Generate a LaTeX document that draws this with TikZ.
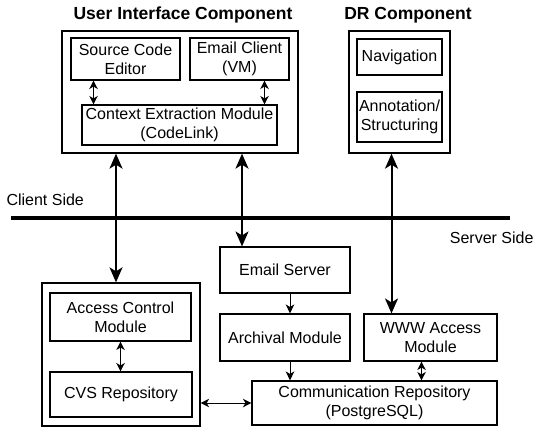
\documentclass[tikz,border=0pt]{standalone}
\usepackage{fontspec}
\setmainfont{Liberation Sans}
\usetikzlibrary{arrows.meta}
\begin{document}
\begin{tikzpicture}[x=1pt, y=-1pt,
        box/.style={rectangle, draw=black, line width=1.1pt, align=center, inner sep=0pt, font=\fontsize{16}{19}\selectfont},
        group/.style={rectangle, draw=black, line width=1.3pt, inner sep=0pt},
        title/.style={font=\fontsize{17.5}{19}\selectfont\bfseries},
        side/.style={font=\fontsize{16}{19}\selectfont},
        arrow/.style={line width=1pt, -{Stealth[length=9pt, width=8.5pt, inset=2.5pt]}},
        dblarrow/.style={line width=1pt, {Stealth[length=8.5pt, width=8.5pt, inset=2.5pt]}-{Stealth[length=8.5pt, width=8.5pt, inset=2.5pt]}},
        bigarrow/.style={line width=2pt, {Stealth[length=15pt, width=13pt, inset=4pt]}-{Stealth[length=15pt, width=13pt, inset=4pt]}}
    ]
        \useasboundingbox (0,0) rectangle (537,427);

        % client side
        \node[group, minimum width=236pt, minimum height=122pt] (ui) at (180,92) {};
        \node[title] (uititle) at (183,15) {User Interface Component};
        \node[box, minimum width=109pt, minimum height=42pt] (editor) at (125.5,59) {Source Code\\Editor};
        \node[box, minimum width=99pt, minimum height=42pt] (mail) at (239.5,59) {Email Client\\(VM)};
        \node[box, minimum width=195pt, minimum height=40pt] (context) at (179.5,125) {Context Extraction Module\\(CodeLink)};

        \node[group, minimum width=101pt, minimum height=122pt] (dr) at (399.5,92) {};
        \node[title] (drtitle) at (408,15) {DR Component};
        \node[box, minimum width=85pt, minimum height=36pt] (nav) at (399.5,57) {Navigation};
        \node[box, minimum width=85pt, minimum height=50pt] (annot) at (399.5,117) {Annotation/\\Structuring};

        \node[side, anchor=west] (client) at (3,200) {Client Side};
        \node[side, anchor=east] (server) at (537,238) {Server Side};
        \draw[line width=4pt] (11,218) -- (510,218);

        % server side
        \node[group, minimum width=158pt, minimum height=143pt] (cvsgroup) at (121,354.5) {};
        \node[box, minimum width=141pt, minimum height=48pt] (access) at (120.5,317) {Access Control\\Module};
        \node[box, minimum width=142pt, minimum height=45pt] (cvs) at (121,394.5) {CVS Repository};
        \node[box, minimum width=130pt, minimum height=46pt] (server) at (285,270) {Email Server};
        \node[box, minimum width=130pt, minimum height=47pt] (archive) at (285,337.5) {Archival Module};
        \node[box, minimum width=133pt, minimum height=47pt] (www) at (430.5,337.5) {WWW Access\\Module};
        \node[box, minimum width=245pt, minimum height=44pt] (repo) at (374.5,403) {Communication Repository\\(PostgreSQL)};

        \draw[dblarrow] ([xshift=-32pt]editor.south) -- ([xshift=-32pt]editor.south |- context.north);
        \draw[dblarrow] ([xshift=25pt]mail.south) -- ([xshift=25pt]mail.south |- context.north);
        \draw[bigarrow] ([xshift=-5pt]cvsgroup.north |- ui.south) -- ([xshift=-5pt]cvsgroup.north);
        \draw[bigarrow] ([xshift=-43pt]server.north |- ui.south) -- ([xshift=-43pt]server.north);
        \draw[bigarrow] ([xshift=-39pt]www.north |- dr.south) -- ([xshift=-39pt]www.north);
        \draw[arrow] ([xshift=5pt]server.south) -- ([xshift=5pt]server.south |- archive.north);
        \draw[arrow] ([xshift=5pt]archive.south) -- ([xshift=5pt]archive.south |- repo.north);
        \draw[dblarrow] ([xshift=-9pt]www.south) -- ([xshift=-9pt]www.south |- repo.north);
        \draw[dblarrow] (access.south) -- (access.south |- cvs.north);
        \draw[dblarrow] (cvsgroup.east |- repo.west) -- (repo.west);
    \end{tikzpicture}
\end{document}
